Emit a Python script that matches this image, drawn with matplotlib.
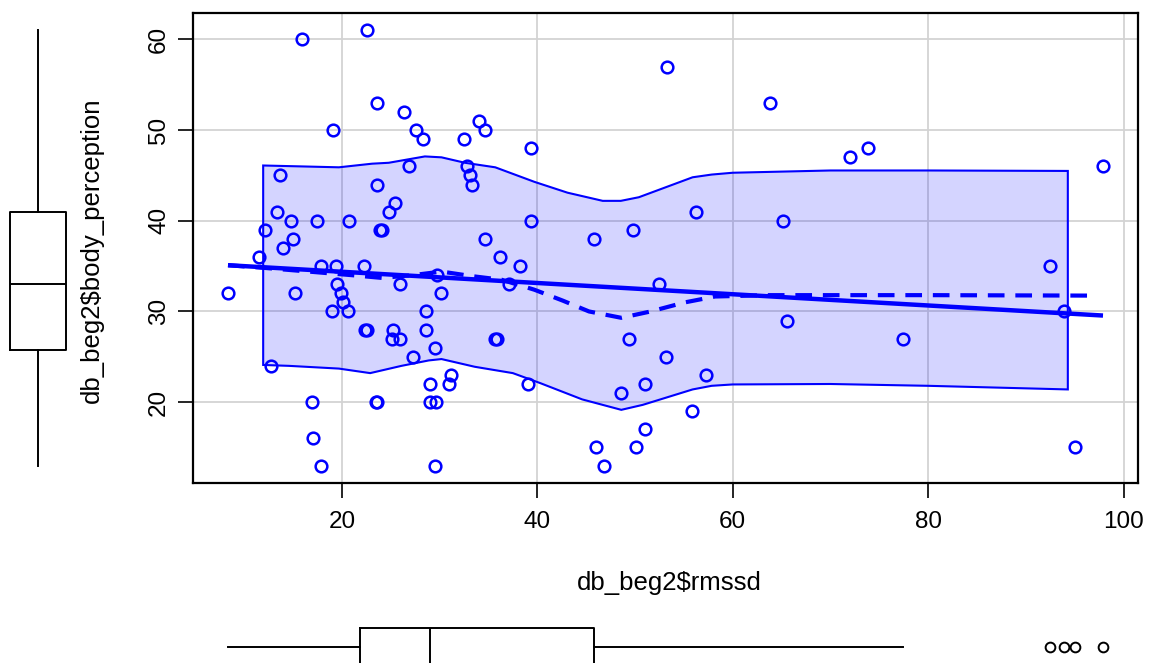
import numpy as np
import matplotlib as mpl; mpl.use('Agg')
import matplotlib.pyplot as plt

plt.rcParams['font.family'] = ['Liberation Sans', 'DejaVu Sans']

# --- data
rmssd = [
    15.9, 22.6, 23.6, 26.4, 19.1, 27.6, 28.3, 32.5, 34.0, 34.7,
    39.4, 26.9, 32.8, 33.1, 33.3, 13.7, 23.6, 25.4, 24.8, 13.4,
    14.8, 17.5, 20.7, 39.4, 12.15, 23.9, 24.1, 15.0, 34.7, 14.0,
    11.5, 36.2, 38.2, 17.9, 19.4, 22.3, 29.75, 26.0, 37.1, 19.5,
    8.35, 15.2, 19.9, 30.1, 20.1, 19.0, 20.6, 28.6, 22.4, 22.6,
    25.2, 28.6, 25.1, 26.0, 35.7, 35.9, 29.5, 27.3, 12.7, 31.2,
    29.0, 31.0, 39.1, 16.9, 23.5, 23.6, 29.0, 29.6, 17.1, 17.9,
    29.55, 53.3, 63.8, 72.0, 73.8, 97.9, 56.2, 65.2, 49.8, 45.8,
    52.5, 92.5, 93.9, 65.6, 77.4, 49.4, 53.2, 57.3, 51.0, 48.6,
    55.8, 51.0, 46.0, 50.1, 46.8, 95.0,
]
body_perception = [
    60, 61, 53, 52, 50, 50, 49, 49, 51, 50,
    48, 46, 46, 45, 44, 45, 44, 42, 41, 41,
    40, 40, 40, 40, 39, 39, 39, 38, 38, 37,
    36, 36, 35, 35, 35, 35, 34, 33, 33, 33,
    32, 32, 32, 32, 31, 30, 30, 30, 28, 28,
    28, 28, 27, 27, 27, 27, 26, 25, 24, 23,
    22, 22, 22, 20, 20, 20, 20, 20, 16, 13,
    13, 57, 53, 47, 48, 46, 41, 40, 39, 38,
    33, 35, 30, 29, 27, 27, 25, 23, 22, 21,
    19, 17, 15, 15, 13, 15,
]

# regression line (intercept, slope) as drawn in the picture
reg_coef = (35.62, -0.062)

# loess smoother (dashed)
smooth_x = [8.35, 12.15, 21.05, 24.1, 27.2, 30.2, 33.3, 36.35, 39.7, 42.6,
            45.3, 48.6, 51.6, 55.1, 58.2, 63.7, 80.0, 96.5]
smooth_y = [35.1, 34.8, 34.0, 33.7, 34.0, 34.4, 33.9, 33.5, 32.4, 31.2,
            30.0, 29.3, 30.0, 31.0, 31.65, 31.8, 31.8, 31.75]

# spread band
band_up_x = [11.95, 19.7, 23.1, 24.8, 28.5, 30.2, 32.6, 35.7, 39.7, 43.1,
             46.7, 48.55, 50.4, 55.9, 57.85, 60.0, 70.0, 80.0, 94.3]
band_up_y = [46.1, 45.9, 46.3, 46.4, 47.1, 47.0, 46.4, 45.9, 44.3, 43.1,
             42.2, 42.2, 42.6, 44.8, 45.1, 45.3, 45.55, 45.55, 45.5]
band_lo_x = [11.95, 14.6, 19.7, 22.9, 26.1, 28.9, 30.2, 33.6, 37.5, 40.3,
             44.6, 48.6, 50.8, 55.9, 57.85, 60.0, 70.0, 80.0, 94.3]
band_lo_y = [24.1, 24.0, 23.7, 23.2, 24.0, 24.6, 24.75, 23.9, 23.2, 22.1,
             20.3, 19.15, 19.7, 21.4, 21.8, 21.95, 22.0, 21.8, 21.4]

x_ticks = [20, 40, 60, 80, 100]
y_ticks = [20, 30, 40, 50, 60]

BLUE = '#0000FF'
GRID = '#D3D3D3'
FS = 17.5       # tick labels
FS_LAB = 18.5   # axis labels

W, H = 1151, 663
fig = plt.figure(figsize=(W/100, H/100), dpi=100)

def px_axes(x0, y0, x1, y1):
    # pixel box (top-left origin) -> figure axes
    return fig.add_axes([x0/W, 1 - y1/H, (x1-x0)/W, (y1-y0)/H])

ax = px_axes(193, 13, 1138, 483)
x = np.asarray(rmssd, dtype=float)
y = np.asarray(body_perception, dtype=float)

# R style limits: data range + 4%
def rlim(v):
    lo, hi = v.min(), v.max()
    d = (hi - lo) * 0.04
    return lo - d, hi + d

ax.set_xlim(rlim(x))
ax.set_ylim(rlim(y))

for v in x_ticks:
    ax.axvline(v, color=GRID, lw=1.3, zorder=0)
for v in y_ticks:
    ax.axhline(v, color=GRID, lw=1.3, zorder=0)

# spread band
poly_x = band_up_x + band_lo_x[::-1]
poly_y = band_up_y + band_lo_y[::-1]
ax.fill(poly_x, poly_y, facecolor=(0, 0, 1, 0.17), edgecolor=BLUE,
        lw=1.5, zorder=1)

# linear fit
a, b = reg_coef
xs = np.array([x.min(), x.max()])
ax.plot(xs, a + b*xs, color=BLUE, lw=3.2, zorder=3, solid_capstyle='butt')

# smoother
ax.plot(smooth_x, smooth_y, color=BLUE, lw=3.0, ls=(0, (4.0, 2.6)), zorder=3)

ax.plot(x, y, 'o', ms=8.4, mfc='none', mec=BLUE, mew=1.8, zorder=4)

ax.set_xticks(x_ticks)
ax.set_yticks(y_ticks)
ax.tick_params(axis='both', direction='out', length=10.5, width=1.2,
               labelsize=FS, color='black')
ax.tick_params(axis='x', pad=10)
ax.tick_params(axis='y', pad=6)
for lab in ax.get_yticklabels():
    lab.set_rotation(90)
    lab.set_va('center')
for s in ax.spines.values():
    s.set_linewidth(1.6)
fig.text(669/W, 1 - 583/H, 'db_beg2$rmssd', ha='center', va='center',
         fontsize=FS_LAB)

# y boxplot on the left
ax_yb = px_axes(0, 13, 76, 483)
ax_yb.set_ylim(ax.get_ylim())
ax_yb.set_xlim(0, 76)
ax_yb.boxplot(y, positions=[38], widths=56, showcaps=False,
              medianprops=dict(color='black', lw=1.4),
              boxprops=dict(lw=1.4), whiskerprops=dict(lw=1.4),
              flierprops=dict(marker='o', mfc='none', mec='black', ms=6))
ax_yb.axis('off')
fig.text(92/W, 1 - 250/H, 'db_beg2$body_perception', rotation=90,
         ha='center', va='center', fontsize=FS_LAB)

# x boxplot at the bottom
ax_xb = px_axes(193, 600, 1138, 663)
ax_xb.set_xlim(ax.get_xlim())
ax_xb.set_ylim(663, 600)
ax_xb.boxplot(x, positions=[647], widths=38, vert=False, showcaps=False,
              medianprops=dict(color='black', lw=1.4),
              boxprops=dict(lw=1.4), whiskerprops=dict(lw=1.4),
              flierprops=dict(marker='o', mfc='none', mec='black', ms=7,
                              mew=1.4))
ax_xb.axis('off')

fig.savefig('out.png', dpi=100)
